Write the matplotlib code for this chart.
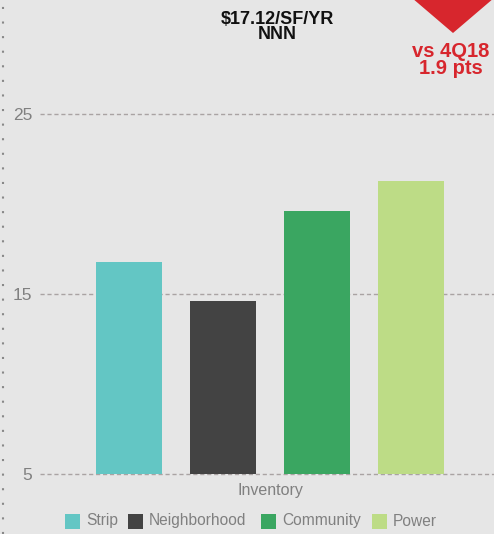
import matplotlib
matplotlib.use("Agg")
import matplotlib.pyplot as plt
from matplotlib.patches import Polygon, Rectangle
from matplotlib.lines import Line2D

categories = ["Strip", "Neighborhood", "Community", "Power"]
values = [16.8, 14.6, 19.6, 21.3]
colors = ["#63c6c4", "#434343", "#3aa661", "#bddc86"]
yticks = [5, 15, 25]
title_text = "\\$17.12/SF/YR\nNNN"
change_text = "vs 4Q18\n1.9 pts"
xlabel = "Inventory"

plt.rcParams['font.family'] = ['Liberation Sans', 'DejaVu Sans']
W, H = 494, 534
bg = "#e6e6e6"
fig = plt.figure(figsize=(W/100, H/100), dpi=100, facecolor=bg)

left, right = 40, 494
bottom_px = 474
ymin, ymax = 5, 30
top_px = bottom_px - (ymax - ymin) * 18
ax = fig.add_axes([left/W, 1 - bottom_px/H, (right-left)/W, (bottom_px-top_px)/H])
ax.set_facecolor(bg)
x = list(range(len(categories)))
ax.bar(x, values, width=0.7, color=colors, zorder=3)
ax.set_xlim(-0.947, 3.88)
ax.set_ylim(ymin, ymax)
ax.set_yticks(yticks)
ax.set_xticks([])
for s in ax.spines.values():
    s.set_visible(False)
for yv in yticks:
    ax.axhline(yv, color="#a9a3a3", lw=1.0, ls=(0, (3, 2)), zorder=1, clip_on=False)
ax.tick_params(axis='y', length=0, labelsize=12.5, labelcolor="#808080", pad=5.5)

fig.text(270/W, 1 - 491/H, xlabel, ha='center', va='center', fontsize=11.5, color="#808080")

leg_pos = [(65, "Strip"), (128, "Neighborhood"), (261, "Community"), (372, "Power")]
for (px, name), c in zip(leg_pos, colors):
    fig.patches.append(Rectangle((px/W, 1 - 529/H), 15/W, 15/H, transform=fig.transFigure,
                                 facecolor=c, edgecolor='none'))
    fig.text((px + 21)/W, 1 - 521/H, name, ha='left', va='center', fontsize=11.2, color="#808080")

fig.text(277/W, 1 - 27/H, title_text, ha='center', va='center', fontsize=13,
         fontweight='bold', color="#111111", linespacing=0.9)

tri = Polygon([(405/W, 1 + 8/H), (501/W, 1 + 8/H), (453/W, 1 - 33/H)], closed=True,
              transform=fig.transFigure, facecolor="#d7262d", edgecolor='none')
fig.patches.append(tri)
fig.text(451/W, 1 - 60/H, change_text, ha='center', va='center', fontsize=14.5,
         fontweight='bold', color="#d7262d", linespacing=0.9)

fig.lines.append(Line2D([3/W, 3/W], [0, 1], transform=fig.transFigure, color="#888888",
                        lw=1.5, ls=(0, (1, 6))))

fig.savefig("out.png", dpi=100, facecolor=bg)
